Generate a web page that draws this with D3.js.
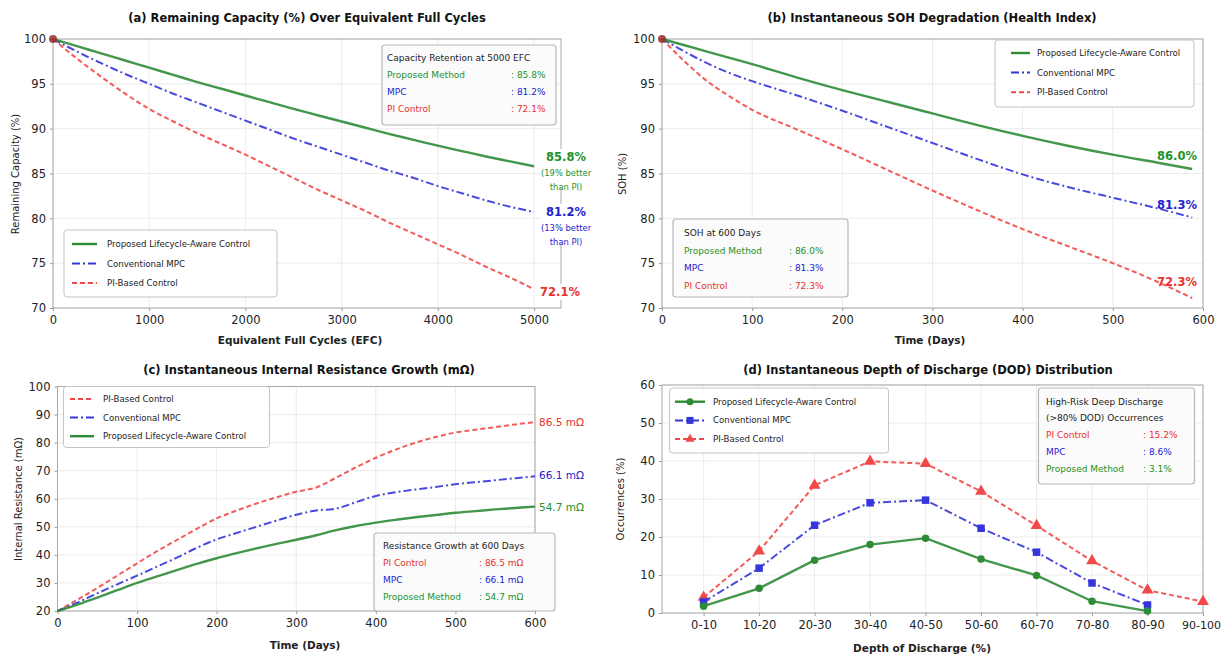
<!DOCTYPE html>
<html><head><meta charset="utf-8">
<script src="https://cdn.jsdelivr.net/npm/d3@7"></script>
<style>body{margin:0;background:#fff}svg{display:block}</style>
</head><body>
<script>
// ---------------- DATA ----------------
const efc = [0,250,500,750,1000,1250,1500,1750,2000,2250,2500,2750,3000,3250,3500,3750,4000,4250,4500,4750,5000];
const capProposed = [100,99.2,98.4,97.6,96.8,96.0,95.2,94.45,93.7,92.95,92.2,91.5,90.8,90.1,89.4,88.75,88.1,87.5,86.9,86.35,85.8];
const capMPC      = [100,98.6,97.3,96.1,95.0,93.9,92.9,91.9,90.9,89.9,88.9,88.0,87.1,86.2,85.3,84.5,83.6,82.8,82.0,81.3,80.7];
const capPI       = [100,97.8,95.8,93.9,92.2,90.8,89.5,88.3,87.1,85.8,84.5,83.2,82.0,80.8,79.5,78.3,77.1,75.9,74.6,73.4,72.1];
const capTicksX = [0,1000,2000,3000,4000,5000];
const capTicksY = [70,75,80,85,90,95,100];

const sohDays = [0,25,50,75,100,150,200,250,300,350,400,450,500,550,588];
const sohProposed = [100,99.3,98.6,97.9,97.2,95.7,94.3,93.0,91.7,90.4,89.2,88.1,87.1,86.2,85.5];
const sohMPC      = [100,98.6,97.3,96.2,95.3,93.7,92.0,90.2,88.4,86.6,84.9,83.5,82.3,81.1,80.1];
const sohPI       = [100,97.5,95.3,93.6,92.1,89.9,87.7,85.4,83.1,80.9,78.8,76.9,75.0,72.9,71.1];
const sohTicksX = [0,100,200,300,400,500,600];
const sohTicksY = [70,75,80,85,90,95,100];

const resDays = [0,25,50,75,100,125,150,175,200,225,250,275,300,325,350,375,400,425,450,475,500,525,550,575,600];
const resPI       = [20,24.0,28.2,32.6,37.0,41.3,45.3,49.3,53.0,55.8,58.3,60.5,62.5,64.0,67.5,71.2,74.6,77.5,80.0,82.0,83.6,84.6,85.5,86.5,87.3];
const resMPC      = [20,23.0,26.3,29.5,32.6,35.8,39.0,42.5,45.5,47.8,50.0,52.2,54.3,55.8,56.5,58.8,61.0,62.3,63.3,64.2,65.2,65.9,66.6,67.3,68.0];
const resProposed = [20,22.3,24.8,27.4,30.0,32.3,34.6,36.8,38.8,40.6,42.3,43.9,45.4,47.0,48.8,50.3,51.5,52.5,53.4,54.2,55.0,55.6,56.2,56.7,57.2];
const resTicksX = [0,100,200,300,400,500,600];
const resTicksY = [20,30,40,50,60,70,80,90,100];

const dodBins = ["0-10","10-20","20-30","30-40","40-50","50-60","60-70","70-80","80-90","90-100"];
const dodProposed = [1.8,6.5,13.9,18.0,19.7,14.2,9.9,3.1,0.5];
const dodMPC      = [2.9,11.8,23.1,29.0,29.7,22.3,16.0,7.9,2.1];
const dodPI       = [4.1,16.3,33.6,39.9,39.3,32.0,23.0,13.7,6.0,3.0];
const dodTicksY = [0,10,20,30,40,50,60];

// ---------------- STYLE ----------------
const FONT = "'DejaVu Sans', sans-serif";
const COL = {green:"#2f8c36", blue:"#3535dc", red:"#f24848"};
const TCOL = {green:"#22922a", blue:"#2222d0", red:"#e8302f"};
const STY = {
  green:{color:COL.green, dash:null, w:2.4},
  blue:{color:COL.blue, dash:"8,3,2,3", w:2.0},
  red:{color:COL.red, dash:"5,3", w:2.0}
};

const W=1222, H=660;
const svg = d3.select("body").append("svg").attr("width",W).attr("height",H)
  .style("font-family",FONT);

function axes(g, x, y, xt, yt, xfmt) {
  const [x0,x1] = x.range(), [yb,yt0] = y.range();
  const grid = g.append("g");
  grid.selectAll(".gx").data(xt).join("line")
    .attr("x1",d=>x(d)).attr("x2",d=>x(d)).attr("y1",yb).attr("y2",yt0)
    .attr("stroke","#e6e6e6").attr("stroke-width",0.8);
  grid.selectAll(".gy").data(yt).join("line")
    .attr("x1",x0).attr("x2",x1).attr("y1",d=>y(d)).attr("y2",d=>y(d))
    .attr("stroke","#e6e6e6").attr("stroke-width",0.8);
  const ax = g.append("g").attr("transform",`translate(0,${yb})`)
    .call(d3.axisBottom(x).tickValues(xt).tickSize(3).tickPadding(5).tickFormat(xfmt || (d=>d)));
  const ay = g.append("g").attr("transform",`translate(${x0},0)`)
    .call(d3.axisLeft(y).tickValues(yt).tickSize(3).tickPadding(4));
  [ax,ay].forEach(a=>{
    a.select(".domain").remove();
    a.selectAll("line").attr("stroke","#999");
    a.selectAll("text").attr("font-size",11.5).attr("fill","#222").attr("font-family",FONT);
  });
  g.append("rect").attr("x",x0).attr("y",yt0).attr("width",x1-x0).attr("height",yb-yt0)
    .attr("fill","none").attr("stroke","#a8a8a8").attr("stroke-width",1);
  return ax;
}

function drawLine(g, xs, ys, x, y, s, curve) {
  const line = d3.line().x((d,i)=>x(xs[i])).y(d=>y(d)).curve(curve || d3.curveMonotoneX);
  g.append("path").datum(ys).attr("d",line).attr("fill","none")
    .attr("stroke",s.color).attr("stroke-width",s.w)
    .attr("stroke-dasharray",s.dash).attr("stroke-opacity",0.9);
}

function marker(g, type, cx, cy, color, size) {
  if (type==="circle") g.append("circle").attr("cx",cx).attr("cy",cy).attr("r",size/2).attr("fill",color);
  else if (type==="square") g.append("rect").attr("x",cx-size/2).attr("y",cy-size/2).attr("width",size).attr("height",size).attr("fill",color);
  else g.append("path").attr("d",d3.symbol(d3.symbolTriangle, size*size*0.75)()).attr("transform",`translate(${cx},${cy})`).attr("fill",color);
}

function legend(g, bx, by, bw, bh, rows, rowY0, rowDy, sx0, sx1, tx) {
  g.append("rect").attr("x",bx).attr("y",by).attr("width",bw).attr("height",bh).attr("rx",3)
    .attr("fill","#fff").attr("fill-opacity",0.92).attr("stroke","#c4c4c4").attr("stroke-width",1);
  rows.forEach((r,i)=>{
    const yy = by + rowY0 + i*rowDy;
    const s = STY[r.key];
    g.append("line").attr("x1",sx0).attr("x2",sx1).attr("y1",yy).attr("y2",yy)
      .attr("stroke",s.color).attr("stroke-width",s.w).attr("stroke-dasharray",s.dash);
    if (r.marker) marker(g, r.marker, (sx0+sx1)/2, yy, s.color, 7);
    g.append("text").attr("x",tx).attr("y",yy).attr("dy","0.35em").attr("font-size",8.6)
      .attr("fill","#222").text(r.label);
  });
}

function infoBox(g, bx, by, bw, bh, titles, rows, tx, cx, ty0, dy) {
  g.append("rect").attr("x",bx).attr("y",by).attr("width",bw).attr("height",bh).attr("rx",3)
    .attr("fill","#fbfbfb").attr("stroke","#b8b8b8").attr("stroke-width",1.2);
  let yy = by + ty0;
  titles.forEach(t=>{
    g.append("text").attr("x",tx).attr("y",yy).attr("dy","0.35em").attr("font-size",9)
      .attr("fill","#222").text(t);
    yy += 16;
  });
  yy += dy - 16;
  rows.forEach(r=>{
    g.append("text").attr("x",tx).attr("y",yy).attr("dy","0.35em").attr("font-size",9)
      .attr("fill",TCOL[r.key]).text(r.label);
    g.append("text").attr("x",cx).attr("y",yy).attr("dy","0.35em").attr("font-size",9)
      .attr("fill",TCOL[r.key]).text(": " + r.value);
    yy += dy;
  });
}

function title(t, cx, cy) {
  svg.append("text").attr("x",cx).attr("y",cy).attr("text-anchor","middle").attr("dy","0.35em")
    .attr("font-size",11.5).attr("font-weight","bold").attr("fill","#111").text(t);
}
function xlabel(t, cx, cy) {
  svg.append("text").attr("x",cx).attr("y",cy).attr("text-anchor","middle").attr("dy","0.35em")
    .attr("font-size",10.5).attr("font-weight","bold").attr("fill","#222").text(t);
}
function ylabel(t, cx, cy) {
  svg.append("text").attr("transform",`translate(${cx},${cy}) rotate(-90)`).attr("text-anchor","middle").attr("dy","0.35em")
    .attr("font-size",10).attr("fill","#222").text(t);
}

// ---------------- PANEL A ----------------
{
  const g = svg.append("g");
  const x = d3.scaleLinear().domain([0,5280]).range([53,561]);
  const y = d3.scaleLinear().domain([70,100]).range([308,39]);
  axes(g, x, y, capTicksX, capTicksY);
  drawLine(g, efc, capPI, x, y, STY.red);
  drawLine(g, efc, capMPC, x, y, STY.blue);
  drawLine(g, efc, capProposed, x, y, STY.green);
  g.append("circle").attr("cx",x(efc[0])).attr("cy",y(capPI[0])).attr("r",4).attr("fill","#9a2a2a").attr("opacity",0.85);
  title("(a) Remaining Capacity (%) Over Equivalent Full Cycles", 307, 18);
  xlabel("Equivalent Full Cycles (EFC)", 300, 340);
  ylabel("Remaining Capacity (%)", 15, 174);
  legend(g, 64, 230, 213, 67, [
    {key:"green", label:"Proposed Lifecycle-Aware Control"},
    {key:"blue", label:"Conventional MPC"},
    {key:"red", label:"PI-Based Control"}], 14, 19.5, 72, 97, 107);
  infoBox(g, 382, 45, 174, 80, ["Capacity Retention at 5000 EFC"], [
    {key:"green", label:"Proposed Method", value:"85.8%"},
    {key:"blue", label:"MPC", value:"81.2%"},
    {key:"red", label:"PI Control", value:"72.1%"}], 387, 511, 13, 17);
  const xe = x(efc[efc.length-1]);
  const ann = [
    {key:"green", lines:["85.8%","(19% better","than PI)"], y0:157},
    {key:"blue", lines:["81.2%","(13% better","than PI)"], y0:212}
  ];
  ann.forEach(a=>{
    g.append("rect").attr("x",xe+6).attr("y",a.y0-8).attr("width",56).attr("height",39).attr("fill","#fff");
    a.lines.forEach((t,i)=>{
      g.append("text").attr("x",xe+32).attr("y",a.y0 + (i===0?0:(i===1?16:30))).attr("dy","0.35em")
        .attr("text-anchor","middle").attr("font-size",i===0?11.5:8.4).attr("font-weight",i===0?"bold":"normal")
        .attr("fill",TCOL[a.key]).text(t);
    });
  });
  g.append("rect").attr("x",xe+5).attr("y",284).attr("width",44).attr("height",16).attr("fill","#fff");
  g.append("text").attr("x",xe+6).attr("y",292).attr("dy","0.35em").attr("font-size",11.5).attr("font-weight","bold")
    .attr("fill",TCOL.red).text("72.1%");
}

// ---------------- PANEL B ----------------
{
  const g = svg.append("g");
  const x = d3.scaleLinear().domain([0,600]).range([662,1203]);
  const y = d3.scaleLinear().domain([70,100]).range([308,39]);
  axes(g, x, y, sohTicksX, sohTicksY);
  drawLine(g, sohDays, sohPI, x, y, STY.red);
  drawLine(g, sohDays, sohMPC, x, y, STY.blue);
  drawLine(g, sohDays, sohProposed, x, y, STY.green);
  g.append("circle").attr("cx",x(sohDays[0])).attr("cy",y(sohPI[0])).attr("r",4).attr("fill","#9a2a2a").attr("opacity",0.85);
  title("(b) Instantaneous SOH Degradation (Health Index)", 932, 18);
  xlabel("Time (Days)", 930, 340);
  ylabel("SOH (%)", 622, 174);
  legend(g, 995, 40, 199, 67, [
    {key:"green", label:"Proposed Lifecycle-Aware Control"},
    {key:"blue", label:"Conventional MPC"},
    {key:"red", label:"PI-Based Control"}], 13, 19.6, 1011, 1030, 1037);
  infoBox(g, 673, 219, 175, 78, ["SOH at 600 Days"], [
    {key:"green", label:"Proposed Method", value:"86.0%"},
    {key:"blue", label:"MPC", value:"81.3%"},
    {key:"red", label:"PI Control", value:"72.3%"}], 684, 789, 14, 17.5);
  [["green","86.0%",156],["blue","81.3%",205],["red","72.3%",282]].forEach(([k,t,yy])=>{
    g.append("text").attr("x",1197).attr("y",yy).attr("dy","0.35em").attr("text-anchor","end")
      .attr("font-size",11.5).attr("font-weight","bold").attr("fill",TCOL[k]).text(t);
  });
}

// ---------------- PANEL C ----------------
{
  const g = svg.append("g");
  const x = d3.scaleLinear().domain([0,600]).range([57.5,535]);
  const y = d3.scaleLinear().domain([20,100]).range([611,386.5]);
  axes(g, x, y, resTicksX, resTicksY);
  drawLine(g, resDays, resPI, x, y, STY.red);
  drawLine(g, resDays, resMPC, x, y, STY.blue);
  drawLine(g, resDays, resProposed, x, y, STY.green);
  title("(c) Instantaneous Internal Resistance Growth (mΩ)", 309, 370);
  xlabel("Time (Days)", 305, 645);
  ylabel("Internal Resistance (mΩ)", 18, 499);
  legend(g, 63.5, 386.5, 206, 61, [
    {key:"red", label:"PI-Based Control"},
    {key:"blue", label:"Conventional MPC"},
    {key:"green", label:"Proposed Lifecycle-Aware Control"}], 12.5, 18.6, 70, 94, 103);
  infoBox(g, 374, 533, 181, 78, ["Resistance Growth at 600 Days"], [
    {key:"red", label:"PI Control", value:"86.5 mΩ"},
    {key:"blue", label:"MPC", value:"66.1 mΩ"},
    {key:"green", label:"Proposed Method", value:"54.7 mΩ"}], 383, 479, 12.5, 17);
  [["red","86.5 mΩ",422],["blue","66.1 mΩ",475],["green","54.7 mΩ",507]].forEach(([k,t,yy])=>{
    g.append("text").attr("x",539).attr("y",yy).attr("dy","0.35em")
      .attr("font-size",10.5).attr("fill",TCOL[k]).text(t);
  });
}

// ---------------- PANEL D ----------------
{
  const g = svg.append("g");
  const x = d3.scaleLinear().domain([-0.75,9]).range([662,1203]);
  const y = d3.scaleLinear().domain([0,60]).range([613,385]);
  const idx = dodBins.map((d,i)=>i);
  const ax = axes(g, x, y, idx, dodTicksY, i=>dodBins[i]);
  // keep the last bin label inside the picture
  ax.selectAll(".tick text").filter(d=>d===idx.length-1).attr("font-size",11).attr("dx",-2);
  const series = [
    {key:"red", v:dodPI, m:"triangle"},
    {key:"blue", v:dodMPC, m:"square"},
    {key:"green", v:dodProposed, m:"circle"}];
  series.forEach(s=>{
    drawLine(g, idx, s.v, x, y, STY[s.key], d3.curveLinear);
    s.v.forEach((v,i)=>marker(g, s.m, x(i), y(v), STY[s.key].color, s.m==="triangle"?9:7.5));
  });
  title("(d) Instantaneous Depth of Discharge (DOD) Distribution", 928, 370);
  xlabel("Depth of Discharge (%)", 922, 648);
  ylabel("Occurrences (%)", 620, 499);
  legend(g, 669.5, 388, 219, 65, [
    {key:"green", label:"Proposed Lifecycle-Aware Control", marker:"circle"},
    {key:"blue", label:"Conventional MPC", marker:"square"},
    {key:"red", label:"PI-Based Control", marker:"triangle"}], 13.7, 18.7, 675, 705, 713);
  infoBox(g, 1038.5, 388, 156, 96, ["High-Risk Deep Discharge","(>80% DOD) Occurrences"], [
    {key:"red", label:"PI Control", value:"15.2%"},
    {key:"blue", label:"MPC", value:"8.6%"},
    {key:"green", label:"Proposed Method", value:"3.1%"}], 1046, 1143, 13.7, 17.2);
}
</script>
</body></html>
